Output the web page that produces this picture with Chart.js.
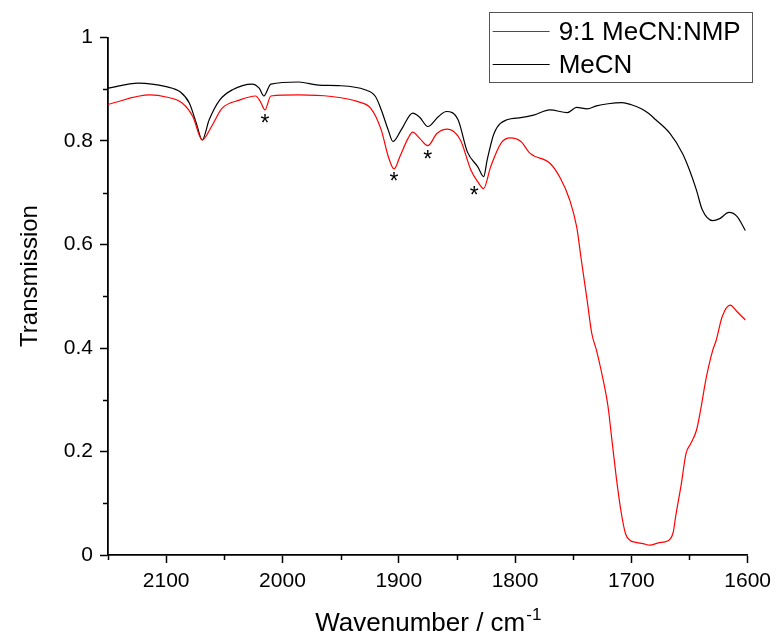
<!DOCTYPE html>
<html>
<head>
<meta charset="utf-8">
<script src="https://cdn.jsdelivr.net/npm/chart.js@4.4.0/dist/chart.umd.min.js"></script>
<style>
  html, body { margin: 0; padding: 0; background: #fff; }
  #wrap { width: 777px; height: 635px; position: relative; }
</style>
</head>
<body>
<div id="wrap"><canvas id="ir-chart"></canvas></div>
<script>
// IR spectra, 2150-1600 cm-1 region
const FONT = '"Liberation Sans", Arial, Helvetica, sans-serif';

const seriesNames = ['9:1 MeCN:NMP', 'MeCN'];
const seriesColors = ['#ff0000', '#000000'];

// 9:1 MeCN:NMP (red)
const mixWn = [2150, 2114, 2100, 2086, 2077, 2069, 2061, 2052, 2037, 2023,
  2019, 2015, 2010, 1986, 1958, 1935, 1924, 1915, 1909, 1904,
  1899, 1892, 1888, 1882, 1875, 1867, 1858, 1847, 1838, 1832,
  1827, 1821, 1812, 1804, 1795, 1787, 1770, 1761, 1753, 1747,
  1743, 1738, 1734, 1730, 1726, 1720, 1717, 1713, 1709, 1705,
  1701, 1697, 1690, 1684, 1676, 1669, 1664, 1662, 1657, 1653,
  1649, 1644, 1640, 1636, 1630, 1627, 1622, 1615, 1609, 1602];
const mixT = [0.871, 0.889, 0.885, 0.873, 0.847, 0.802, 0.828, 0.863, 0.879, 0.887,
  0.876, 0.860, 0.887, 0.889, 0.886, 0.876, 0.863, 0.821, 0.770, 0.746,
  0.770, 0.805, 0.817, 0.805, 0.791, 0.815, 0.823, 0.802, 0.744, 0.721,
  0.708, 0.750, 0.796, 0.806, 0.799, 0.776, 0.757, 0.728, 0.686, 0.634,
  0.570, 0.492, 0.428, 0.396, 0.357, 0.286, 0.228, 0.151, 0.086, 0.041,
  0.028, 0.025, 0.022, 0.019, 0.024, 0.027, 0.044, 0.073, 0.138, 0.196,
  0.215, 0.241, 0.286, 0.338, 0.396, 0.415, 0.460, 0.483, 0.470, 0.454];

// MeCN (black)
const mecnWn = [2150, 2124, 2100, 2088, 2080, 2074, 2069, 2063, 2054, 2043,
  2026, 2020, 2016, 2010, 1986, 1969, 1952, 1929, 1920, 1915,
  1909, 1905, 1898, 1888, 1882, 1875, 1866, 1859, 1849, 1841,
  1832, 1827, 1824, 1818, 1807, 1795, 1784, 1770, 1755, 1747,
  1738, 1730, 1720, 1708, 1700, 1691, 1685, 1679, 1667, 1656,
  1650, 1644, 1639, 1630, 1624, 1616, 1609, 1602];
const mecnT = [0.902, 0.912, 0.905, 0.895, 0.873, 0.834, 0.802, 0.841, 0.879, 0.899,
  0.910, 0.902, 0.887, 0.910, 0.914, 0.908, 0.907, 0.899, 0.886, 0.860,
  0.821, 0.799, 0.821, 0.854, 0.846, 0.828, 0.847, 0.857, 0.841, 0.779,
  0.750, 0.731, 0.763, 0.815, 0.841, 0.845, 0.850, 0.860, 0.855, 0.865,
  0.862, 0.868, 0.872, 0.874, 0.870, 0.862, 0.853, 0.841, 0.815, 0.776,
  0.744, 0.705, 0.667, 0.646, 0.650, 0.662, 0.654, 0.627];

// asterisk markers under the NMP bands
const starWn = [2015, 1904, 1875, 1835];
const starT = [0.843, 0.731, 0.774, 0.705];

const xRange = [1600, 2150];
const yRange = [0, 1];

const toPoints = (xs, ys) => xs.map((x, i) => ({ x, y: ys[i] }));

const isMajorY = v => Math.round(v * 10) % 2 === 0;
const isMajorX = v => Math.round(v) % 100 === 0;

// minor ticks, axis titles, asterisks and the boxed legend
const overlay = {
  id: 'overlay',
  afterDatasetsDraw(chart) {
    const { ctx, scales: { x, y } } = chart;
    ctx.save();
    ctx.fillStyle = '#000';
    ctx.font = '23px ' + FONT;
    ctx.textAlign = 'center';
    ctx.textBaseline = 'alphabetic';
    const m = ctx.measureText('*');
    const off = (m.actualBoundingBoxAscent - m.actualBoundingBoxDescent) / 2;
    starWn.forEach((w, i) => {
      ctx.fillText('*', x.getPixelForValue(w), y.getPixelForValue(starT[i]) + off);
    });
    ctx.restore();
  },
  afterDraw(chart) {
    const { ctx, chartArea: area, scales: { x, y } } = chart;
    ctx.save();
    ctx.strokeStyle = '#000';
    ctx.lineWidth = 1.5;
    ctx.beginPath();
    for (let v = 0.1; v < 1; v += 0.2) {
      const py = Math.round(y.getPixelForValue(v)) + 0.5;
      ctx.moveTo(area.left - 5, py);
      ctx.lineTo(area.left, py);
    }
    for (let v = 1650; v <= 2150; v += 100) {
      const px = Math.round(x.getPixelForValue(v)) + 0.5;
      ctx.moveTo(px, area.bottom);
      ctx.lineTo(px, area.bottom + 5);
    }
    ctx.stroke();

    // x title with superscript
    ctx.fillStyle = '#000';
    ctx.textBaseline = 'alphabetic';
    ctx.textAlign = 'left';
    const main = 'Wavenumber / cm';
    const sup = '-1';
    ctx.font = '26px ' + FONT;
    const wMain = ctx.measureText(main).width;
    ctx.font = '17px ' + FONT;
    const wSup = ctx.measureText(sup).width;
    const cx = (area.left + area.right) / 2;
    const startX = cx - (wMain + wSup) / 2;
    ctx.font = '26px ' + FONT;
    ctx.fillText(main, startX, 631);
    ctx.font = '17px ' + FONT;
    ctx.fillText(sup, startX + wMain + 1, 620);

    // y title
    ctx.save();
    ctx.translate(30, 276);
    ctx.rotate(-Math.PI / 2);
    ctx.textAlign = 'center';
    ctx.textBaseline = 'middle';
    ctx.font = '24px ' + FONT;
    ctx.fillText('Transmission', 0, 0);
    ctx.restore();

    // legend
    const bx = area.right - 259, by = 12.5, bw = 263, bh = 70;
    ctx.strokeStyle = '#555';
    ctx.lineWidth = 1;
    ctx.strokeRect(Math.round(bx) + 0.5, by, bw, bh);
    ctx.font = '26px ' + FONT;
    ctx.textAlign = 'left';
    ctx.textBaseline = 'middle';
    seriesNames.forEach((name, i) => {
      const ry = by + 19 + i * 33;
      ctx.strokeStyle = seriesColors[i];
      ctx.lineWidth = 1.2;
      ctx.beginPath();
      ctx.moveTo(bx + 4, ry);
      ctx.lineTo(bx + 61, ry);
      ctx.stroke();
      ctx.fillStyle = '#000';
      ctx.fillText(name, bx + 70, ry + 1);
    });
    ctx.restore();
  }
};

new Chart(document.getElementById('ir-chart'), {
  type: 'line',
  data: {
    datasets: [
      {
        label: seriesNames[0],
        data: toPoints(mixWn, mixT),
        borderColor: seriesColors[0],
        borderWidth: 1.2,
        pointRadius: 0,
        cubicInterpolationMode: 'monotone',
        fill: false,
      },
      {
        label: seriesNames[1],
        data: toPoints(mecnWn, mecnT),
        borderColor: seriesColors[1],
        borderWidth: 1.2,
        pointRadius: 0,
        cubicInterpolationMode: 'monotone',
        fill: false,
      },
    ],
  },
  options: {
    responsive: true,
    maintainAspectRatio: false,
    animation: false,
    events: [],
    layout: { padding: { top: 37.5, right: 25, left: 0, bottom: 0 } },
    plugins: { legend: { display: false }, tooltip: { enabled: false } },
    scales: {
      x: {
        type: 'linear',
        reverse: true,
        min: xRange[0],
        max: xRange[1],
        afterFit(scale) { scale.height = 80; },
        border: { display: true, color: '#000', width: 1.8 },
        grid: {
          display: true,
          drawOnChartArea: false,
          drawTicks: true,
          tickLength: 8,
          tickWidth: 1.5,
          tickColor: c => isMajorX(c.tick.value) ? '#000' : 'rgba(0,0,0,0)',
        },
        ticks: {
          stepSize: 50,
          autoSkip: false,
          maxRotation: 0,
          padding: 6,
          color: '#000',
          font: { size: 21, family: FONT },
          callback: v => isMajorX(v) ? String(Math.round(v)) : '',
        },
      },
      y: {
        min: yRange[0],
        max: yRange[1],
        afterFit(scale) { scale.width = 108; },
        border: { display: true, color: '#000', width: 1.8 },
        grid: {
          display: true,
          drawOnChartArea: false,
          drawTicks: true,
          tickLength: 8,
          tickWidth: 1.5,
          tickColor: c => isMajorY(c.tick.value) ? '#000' : 'rgba(0,0,0,0)',
        },
        ticks: {
          stepSize: 0.1,
          padding: 7,
          color: '#000',
          font: { size: 21, family: FONT },
          callback: v => {
            if (!isMajorY(v)) return '';
            const r = Math.round(v * 10) / 10;
            return r === 0 || r === 1 ? String(r) : r.toFixed(1);
          },
        },
      },
    },
  },
  plugins: [overlay],
});
</script>
</body>
</html>
